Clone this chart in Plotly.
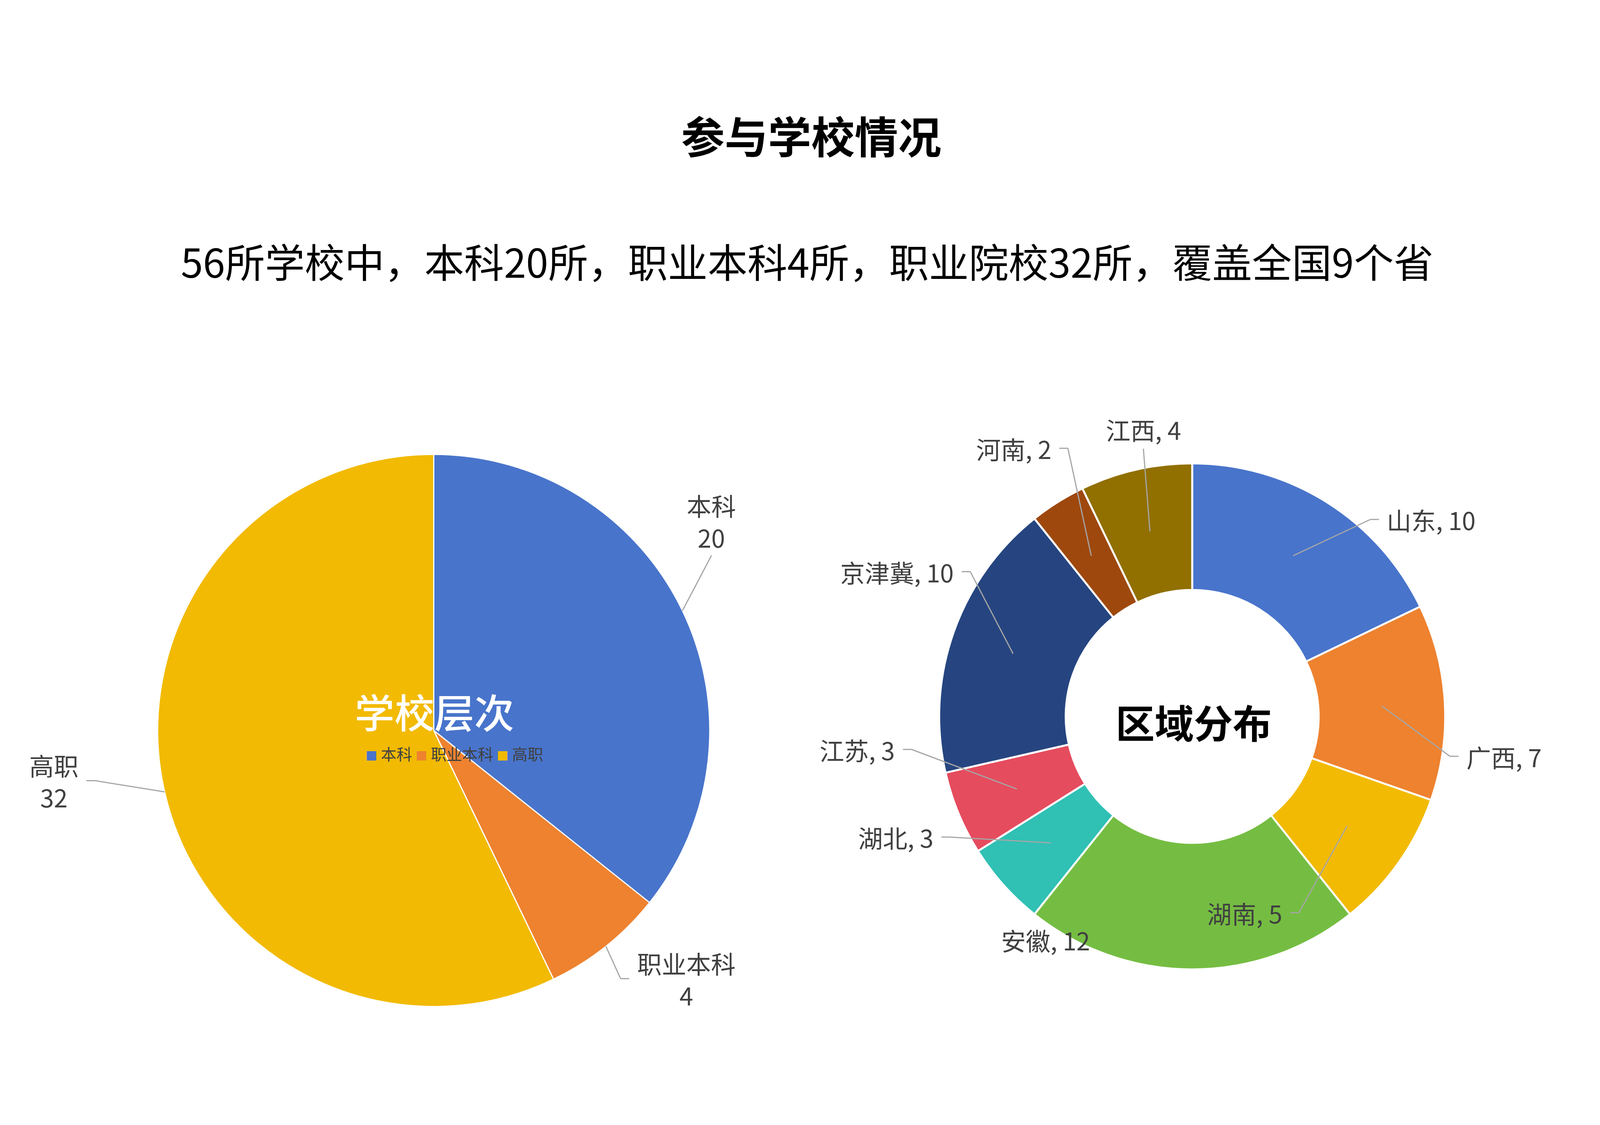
import math
import plotly.graph_objects as go

# 学校层次
level_labels = ["本科", "职业本科", "高职"]
level_values = [20, 4, 32]
level_colors = ["#4874CB", "#EE822F", "#F2BA02"]

# 区域分布
region_labels = ["山东", "广西", "湖南", "安徽", "湖北", "江苏", "京津冀", "河南", "江西"]
region_values = [10, 7, 5, 12, 3, 3, 10, 2, 4]
region_colors = ["#4874CB", "#EE822F", "#F2BA02", "#75BD42", "#30C0B4",
                 "#E54C5E", "#264580", "#9E480E", "#917000"]

title_text = "参与学校情况"
subtitle_text = "56所学校中，本科20所，职业本科4所，职业院校32所，覆盖全国9个省"
left_center_text = "学校层次"
right_center_text = "区域分布"

# the page is shown in a 4096 x 2880 viewport with an 8px body margin
VW, VH, BODY = 4096, 2880, 8
FW, FH = VW - 2 * BODY, VH - 2 * BODY
SX = 0.8      # horizontal squeeze of positions (5120 -> 4096)
SR = 0.88     # size factor for radii, fonts and offsets

FONT = "Noto Sans CJK SC"
LABEL_COLOR = "#404040"
LINE_COLOR = "#A6A6A6"
LABEL_SIZE = round(72 * SR)
LINE_H = 87 * SR
hole = 0.5

# pie layout as measured on a 5120 x 2880 canvas: centre x, centre y, radius
left_ref = (1388, 1870, 803)
right_ref = (3815, 1834, 736)

# label spots on that canvas: x, y, side of the leader line
level_label_pos = [(2196, 1260, "top"), (1977, 2592, "left"), (357, 2016, "right")]
region_label_pos = [(4379, 1261, "left"), (4610, 1950, "left"), (4080, 2405, "right"),
                    (3389, 2483, "none"), (3065, 2185, "right"), (2953, 1930, "right"),
                    (3124, 1413, "right"), (3408, 1054, "right"), (3673, 998, "top")]


def px(x):
    return (x - BODY) / FW


def py(y):
    return 1 - (y - BODY) / FH


def place(ref):
    cx, cy, r = ref
    return (cx * SX, cy, r * SR)


def rel(ref, geom, x, y):
    # keep a spot at the same place relative to its pie
    cx, cy, r = ref
    gx, gy, gr = geom
    return gx + (x - cx) / r * gr, gy + (y - cy) / r * gr


def domain(geom):
    cx, cy, r = geom
    return dict(x=[px(cx - r), px(cx + r)], y=[py(cy + r), py(cy - r)])


def mid_points(values, geom, rfrac):
    # clockwise from 12 o'clock, same as the pie traces
    cx, cy, r = geom
    total = sum(values)
    pts, cum = [], 0
    for v in values:
        a = 2 * math.pi * (cum + v / 2) / total
        pts.append((cx + r * rfrac * math.sin(a), cy - r * rfrac * math.cos(a)))
        cum += v
    return pts


left_pie = place(left_ref)
right_pie = place(right_ref)

fig = go.Figure()

fig.add_trace(go.Pie(
    labels=level_labels, values=level_values, sort=False, direction="clockwise",
    rotation=0, textinfo="none", domain=domain(left_pie), showlegend=False,
    marker=dict(colors=level_colors, line=dict(color="white", width=3)),
))
fig.add_trace(go.Pie(
    labels=region_labels, values=region_values, sort=False, direction="clockwise",
    rotation=0, textinfo="none", hole=hole, domain=domain(right_pie), showlegend=False,
    marker=dict(colors=region_colors, line=dict(color="white", width=5)),
))

shapes, annotations = [], []


def add_label(text, anchor, pos, side, nlines):
    x, y = pos
    ax, ay = anchor
    near, far = 18, 40
    if side == "left":
        pts = [(ax, ay), (x - far, y), (x - near, y)]
        xanchor = "left"
    elif side == "right":
        pts = [(ax, ay), (x + far, y), (x + near, y)]
        xanchor = "right"
    elif side == "top":
        pts = [(ax, ay), (x, y + nlines * LINE_H / 2 + 12)]
        xanchor = "center"
    else:
        pts = []
        xanchor = "center"
    for (x0, y0), (x1, y1) in zip(pts[:-1], pts[1:]):
        shapes.append(dict(type="line", xref="paper", yref="paper", layer="above",
                           x0=px(x0), y0=py(y0), x1=px(x1), y1=py(y1),
                           line=dict(color=LINE_COLOR, width=3)))
    annotations.append(dict(text=text, x=px(x), y=py(y), xref="paper", yref="paper",
                            xanchor=xanchor, yanchor="middle", showarrow=False,
                            align="center",
                            font=dict(family=FONT, size=LABEL_SIZE, color=LABEL_COLOR)))


for lab, val, anc, (x, y, side) in zip(level_labels, level_values,
                                       mid_points(level_values, left_pie, 1.0),
                                       level_label_pos):
    add_label(f"{lab}<br>{val}", anc, rel(left_ref, left_pie, x, y), side, 2)

for lab, val, anc, (x, y, side) in zip(region_labels, region_values,
                                       mid_points(region_values, right_pie, (1 + hole) / 2),
                                       region_label_pos):
    add_label(f"{lab}, {val}", anc, rel(right_ref, right_pie, x, y), side, 1)


def text_at(text, x, y, size, color, weight=400):
    annotations.append(dict(text=text, x=px(x), y=py(y), xref="paper", yref="paper",
                            showarrow=False, xanchor="center", yanchor="middle",
                            font=dict(family=FONT, size=size, color=color, weight=weight)))


# titles
text_at(title_text, 2596 * SX, 344, round(126 * SR), "#000000", 700)
text_at(subtitle_text, 2583 * SX, 666, round(116 * SR), "#000000")

# centre texts
text_at(left_center_text, *rel(left_ref, left_pie, 1390, 1813), round(116 * SR), "#FFFFFF", 500)
text_at(right_center_text, *rel(right_ref, right_pie, 3819, 1848), round(114 * SR), "#000000", 700)

# small legend for the level pie
legend_parts = [f"<span style='color:{c};font-size:{round(34 * SR)}px'>■</span> {lab}"
                for lab, c in zip(level_labels, level_colors)]
text_at(" ".join(legend_parts), *rel(left_ref, left_pie, 1448, 1937), round(46 * SR), LABEL_COLOR)

fig.update_layout(
    width=FW, height=FH,
    margin=dict(l=0, r=0, t=0, b=0),
    paper_bgcolor="white", plot_bgcolor="white",
    font=dict(family=FONT),
    shapes=shapes, annotations=annotations,
    showlegend=False,
)

fig.write_html("out.html")
